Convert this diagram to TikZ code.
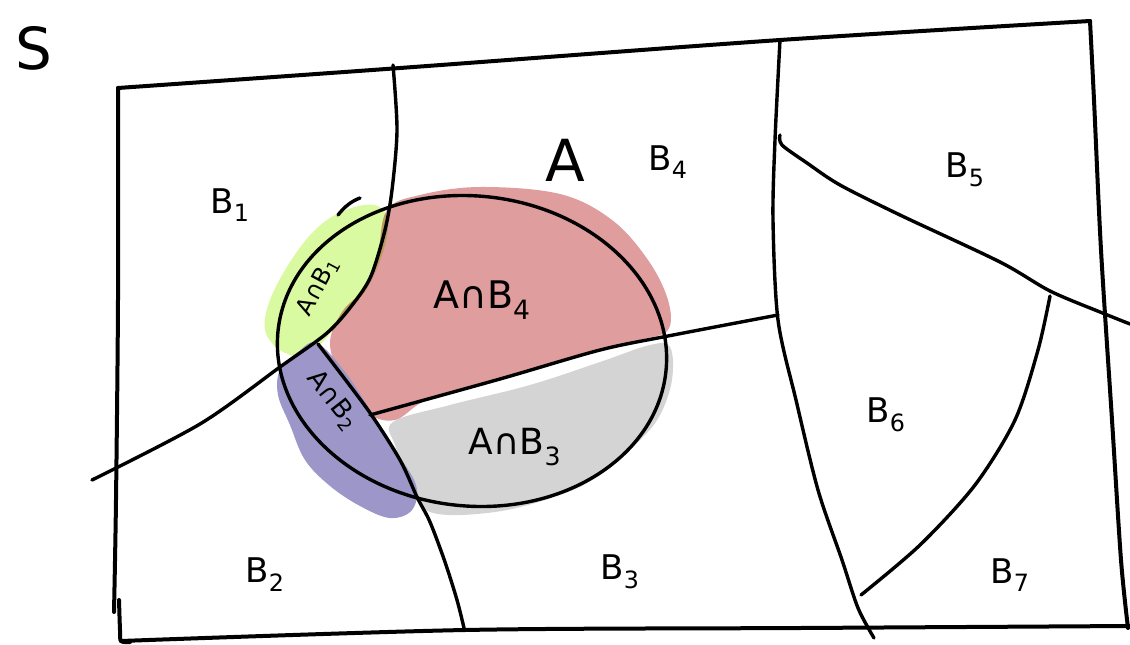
\documentclass[tikz,border=0pt]{standalone}
\usepackage{fontspec}
\setmainfont{DejaVu Sans}
\usetikzlibrary{calc}
\definecolor{cgreen}{RGB}{217,250,160}
\definecolor{cred}{RGB}{223,157,157}
\definecolor{cgray}{RGB}{212,212,212}
\definecolor{cpurple}{RGB}{156,151,200}
\tikzset{
  pen/.style={line width=3.4pt, line cap=round, line join=round},
  frame/.style={line width=4pt, line cap=round, line join=round},
  lab/.style={font=\fontsize{34}{36}\selectfont, inner sep=0pt},
  biglab/.style={font=\fontsize{58}{60}\selectfont, inner sep=0pt},
}
\begin{document}
\begin{tikzpicture}[x=1pt,y=-1pt]
\useasboundingbox (0,0) rectangle (1130,645);
% fills
\fill[cgray] plot[smooth cycle, tension=0.6] coordinates {(393,422) (450,405) (530,385) (600,362) (650,345) (670,347) (672,380) (660,415) (640,440) (600,475) (560,495) (495,512) (430,512) (410,480) (395,445)};
\fill[cgreen] plot[smooth cycle, tension=0.6] coordinates {(343,211) (375,205) (388,222) (382,255) (366,290) (345,312) (328,336) (305,356) (280,350) (265,330) (270,300) (290,262) (315,230)};
\fill[cred, blend mode=multiply] plot[smooth cycle, tension=0.6] coordinates {(387,210) (420,195) (480,187) (560,194) (612,220) (648,260) (668,300) (668,330) (640,340) (593,353) (493,380) (427,400) (395,420) (367,413) (345,385) (330,345) (342,312) (368,285) (378,255)};
\fill[cpurple] plot[smooth cycle, tension=0.6] coordinates {(317,343) (345,372) (372,413) (395,450) (416,485) (412,510) (390,518) (360,506) (330,486) (305,460) (290,425) (278,395) (280,370) (298,352)};
% frame
\coordinate (tl) at (118,88);
\coordinate (tr) at (1090,21);
\coordinate (br) at (1128,628);
\coordinate (bl) at (121,641);
\draw[frame] plot[smooth, tension=0.5] coordinates {(tl) (400,68) (780,40) (tr)};
\draw[frame] plot[smooth, tension=0.5] coordinates {(tr) (1094,100) (1101,250) (1112,420) (1121,560) (br)};
\draw[frame] plot[smooth, tension=0.5] coordinates {(bl) (465,630) (800,628) (1130,626)};
\draw[frame] plot[smooth, tension=0.5] coordinates {(tl) (118,300) (116,500) (114,612)};
\draw[frame] plot[smooth, tension=0.5] coordinates {(119,600) (120,630) (bl) (130,642)};
% S
\node[biglab] (s) at (34,48) {S};
% ellipse A
\coordinate (ac) at (472,351);
\draw[pen, rotate around={-6:(ac)}] (ac) ellipse [x radius=195pt, y radius=155pt];
\draw[pen] (338,215) .. controls (345,206) and (352,201) .. (360,198);
% B1/B2 and B1/B4 boundary (one stroke)
\draw[pen] plot[smooth, tension=0.5] coordinates {(92,480) (200,424) (280,367) (327,333) (353,304) (371,276) (385,230) (392,190) (397,130) (393,65)};
% B2/B3 boundary
\draw[pen] plot[smooth, tension=0.5] coordinates {(318,344) (368,410) (400,460) (417,497) (430,522) (445,562) (457,600) (464,628)};
% B3/B4 boundary
\draw[pen] plot[smooth, tension=0.5] coordinates {(370,415) (500,379) (600,350) (668,336) (778,315)};
% B4/B5 boundary
\draw[pen] plot[smooth, tension=0.5] coordinates {(780,40) (775,140) (773,220) (778,320) (796,400) (818,490) (842,560) (858,608) (874,638)};
% B5/B6 boundary
\draw[pen] plot[smooth, tension=0.5] coordinates {(780,135) (782,145) (807,163) (840,185) (900,215) (1000,262) (1050,291) (1100,312) (1130,324)};
% B6/B7 boundary
\draw[pen] plot[smooth, tension=0.5] coordinates {(1050,296) (1038,350) (1015,420) (975,485) (920,545) (861,595)};
% labels
\node[lab] (b1) at (230,205) {B\textsubscript{1}};
\node[biglab] (a) at (565,160) {A};
\node[lab] (b4) at (668,162) {B\textsubscript{4}};
\node[lab] (b5) at (965,170) {B\textsubscript{5}};
\node[lab, rotate=62, font=\fontsize{24}{26}\selectfont] (ab1) at (318,287) {A∩B\textsubscript{1}};
\node[lab, font=\fontsize{38}{40}\selectfont] (ab4) at (482,300) {A∩B\textsubscript{4}};
\node[lab, rotate=-52, font=\fontsize{26}{28}\selectfont] (ab2) at (333,400) {A∩B\textsubscript{2}};
\node[lab, font=\fontsize{36}{38}\selectfont] (ab3) at (515,447) {A∩B\textsubscript{3}};
\node[lab] (b6) at (886,415) {B\textsubscript{6}};
\node[lab] (b2) at (265,575) {B\textsubscript{2}};
\node[lab] (b3) at (620,572) {B\textsubscript{3}};
\node[lab] (b7) at (1010,575) {B\textsubscript{7}};
\end{tikzpicture}
\end{document}
